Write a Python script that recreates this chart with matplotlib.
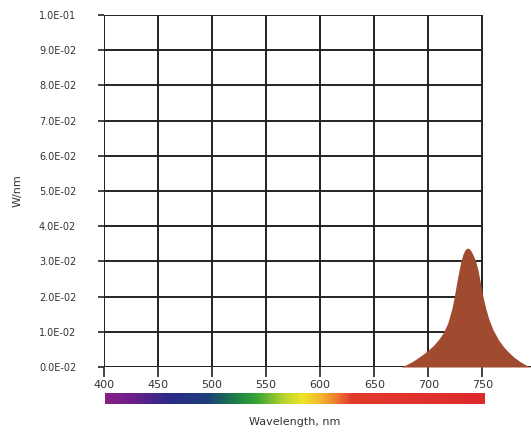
import matplotlib.pyplot as plt
import numpy as np
from matplotlib.colors import LinearSegmentedColormap

# spectrum
wavelength = [675, 680, 685, 690, 695, 700, 705, 710, 714, 718, 722, 724,
              727, 730, 732, 734, 736, 738, 740, 742, 744, 746, 748, 750,
              753, 756, 760, 765, 770, 775, 780, 785, 790, 795]
power = [0.0, 0.0007, 0.0015, 0.0025, 0.0036, 0.0048, 0.0062, 0.0080, 0.0098,
         0.0125, 0.0168, 0.0200, 0.0252, 0.0298, 0.0320, 0.0333, 0.0338,
         0.0336, 0.0327, 0.0314, 0.0298, 0.0275, 0.0242, 0.0208, 0.0168,
         0.0136, 0.0105, 0.0077, 0.0056, 0.0040, 0.0026, 0.0015, 0.0006, 0.0]

x_ticks = [400, 450, 500, 550, 600, 650, 700, 750]
y_ticks = [0.0, 0.01, 0.02, 0.03, 0.04, 0.05, 0.06, 0.07, 0.08, 0.09, 0.1]
y_labels = ['0.0E-02', '1.0E-02', '2.0E-02', '3.0E-02', '4.0E-02', '5.0E-02',
            '6.0E-02', '7.0E-02', '8.0E-02', '9.0E-02', '1.0E-01']

fig = plt.figure(figsize=(5.31, 4.32), dpi=100)
ax = fig.add_axes([104 / 531, 65 / 432, 427 / 531, 352 / 432])

grid_c = '#222222'
ax.vlines(x_ticks, 0, 0.1, color=grid_c, lw=1.4, zorder=1)
ax.hlines(y_ticks, 400, 750, color=grid_c, lw=1.4, zorder=1)
ax.hlines(0, 400, 795, color=grid_c, lw=1.4, zorder=1)

ax.fill_between(wavelength, power, 0, color='#a04a30', lw=0, zorder=3)

ax.set_xlim(400, 795)
ax.set_ylim(0, 0.1)
for s in ax.spines.values():
    s.set_visible(False)

ax.set_xticks(x_ticks)
ax.set_yticks(y_ticks)
ax.set_yticklabels(y_labels)
ax.tick_params(axis='x', length=7, width=1.2, color=grid_c, labelsize=8,
               labelcolor='#333333', pad=2)
ax.tick_params(axis='y', length=4, width=1.2, color=grid_c, labelsize=7,
               labelcolor='#333333', pad=16)
ax.set_ylabel('W/nm', fontsize=8, color='#333333', labelpad=12)

# rainbow strip under the axis
cax = fig.add_axes([105 / 531, 28 / 432, 380 / 531, 11 / 432])
spec_cmap = LinearSegmentedColormap.from_list('spec', [
    (0.00, '#8a1f86'), (0.07, '#6a1f8c'), (0.17, '#2b2a88'), (0.27, '#1c3f78'),
    (0.34, '#1a7d4a'), (0.40, '#38a535'), (0.47, '#b7d22f'), (0.52, '#eee52a'),
    (0.57, '#f2b52d'), (0.61, '#ee7a2d'), (0.65, '#e23a2c'), (1.00, '#dd2a2e')])
cax.imshow(np.linspace(0, 1, 400)[None, :], aspect='auto', cmap=spec_cmap)
cax.axis('off')

fig.text(295 / 531, 10 / 432, 'Wavelength, nm', ha='center', va='center',
         fontsize=8, color='#333333')

fig.savefig('out.png')
